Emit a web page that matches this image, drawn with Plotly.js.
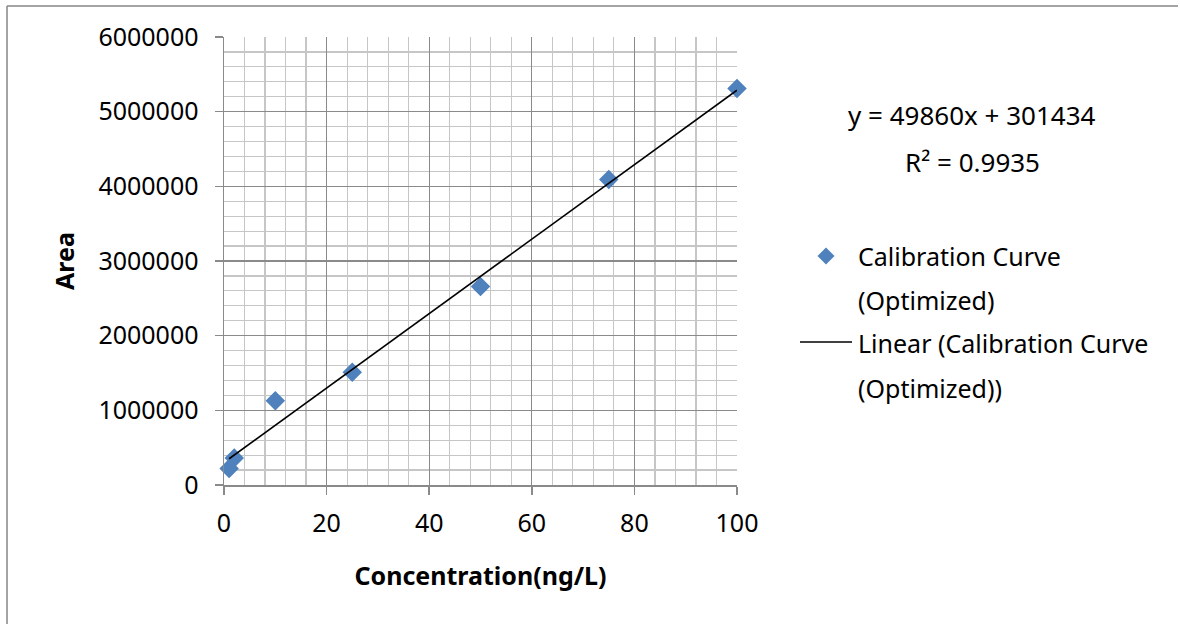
<!DOCTYPE html>
<html>
<head>
<meta charset="utf-8">
<script src="https://cdn.plot.ly/plotly-3.0.1.min.js"></script>
<style>
  html, body { margin: 0; padding: 0; background: #ffffff; overflow: hidden; }
  #chart { width: 1180px; height: 624px; }
</style>
</head>
<body>
<div id="chart"></div>
<script>
// Calibration standards: concentration (ng/L) vs. peak area
const concentration = [1, 2, 10, 25, 50, 75, 100];
const area = [220000, 360000, 1130000, 1510000, 2660000, 4090000, 5310000];

// Linear trendline coefficients and fit quality
const slope = 49860;
const intercept = 301434;
const rSquared = 0.9935;

const seriesName = 'Calibration Curve (Optimized)';
const legendLines = ['Calibration Curve', '(Optimized)', 'Linear (Calibration Curve', '(Optimized))'];

const W = 1180, H = 624;
const M = { l: 224, r: 443, t: 37, b: 139 };
const plotW = W - M.l - M.r;
const plotH = H - M.t - M.b;
// pixel -> paper helpers for decorations outside the plot area
const px = x => (x - M.l) / plotW;
const py = y => (H - M.b - y) / plotH;

const FONT = '"Noto Sans", "Open Sans", sans-serif';
const BLUE = '#4F81BD';
const GRID_MAJOR = '#8a8a8a';
const GRID_MINOR = '#c6c6c6';

const trendX = [Math.min(...concentration), Math.max(...concentration)];
const trendY = trendX.map(x => slope * x + intercept);

const traces = [
  {
    x: concentration, y: area, type: 'scatter', mode: 'markers',
    name: seriesName, showlegend: false,
    marker: { symbol: 'diamond', size: 15, color: BLUE, line: { width: 0 } },
    cliponaxis: false
  },
  {
    x: trendX, y: trendY, type: 'scatter', mode: 'lines',
    name: 'Linear (' + seriesName + ')', showlegend: false,
    line: { color: '#000000', width: 1.6 }
  }
];

const textFont = { family: FONT, size: 25, color: '#000000' };
const eqFont = { family: FONT, size: 26, color: '#000000' };

const annotations = [
  { text: 'y = ' + slope + 'x + ' + intercept, x: px(972), y: py(115) },
  { text: 'R² = ' + rSquared, x: px(972), y: py(162) }
].map(a => Object.assign({
  xref: 'paper', yref: 'paper', xanchor: 'center', yanchor: 'middle',
  showarrow: false, font: eqFont
}, a));

const legendY = [256, 300, 343, 388];
legendLines.forEach((t, i) => annotations.push({
  text: t, xref: 'paper', yref: 'paper', x: px(856), y: py(legendY[i]),
  xanchor: 'left', yanchor: 'middle', showarrow: false, font: textFont
}));

const d = 8.5; // legend diamond half-size in px
const frame = { color: '#868686', width: 1.5 };
const shapes = [
  // chart frame (left and top edges inside the page)
  { type: 'line', xref: 'paper', yref: 'paper',
    x0: px(7), x1: px(7), y0: py(6), y1: py(H), line: frame },
  { type: 'line', xref: 'paper', yref: 'paper',
    x0: px(7), x1: px(W - 2), y0: py(6), y1: py(6), line: frame },
  // legend marker symbol
  { type: 'path', xref: 'paper', yref: 'paper',
    path: 'M ' + px(826) + ' ' + py(256 - d) + ' L ' + px(826 + d) + ' ' + py(256) +
          ' L ' + px(826) + ' ' + py(256 + d) + ' L ' + px(826 - d) + ' ' + py(256) + ' Z',
    fillcolor: BLUE, line: { width: 0 } },
  // legend line symbol
  { type: 'line', xref: 'paper', yref: 'paper',
    x0: px(800), x1: px(852), y0: py(342), y1: py(342),
    line: { color: '#000000', width: 1.6 } }
];

const layout = {
  width: W, height: H,
  margin: M,
  paper_bgcolor: '#ffffff', plot_bgcolor: '#ffffff',
  font: textFont,
  showlegend: false,
  xaxis: {
    range: [0, 100], dtick: 20, tick0: 0,
    showgrid: true, gridcolor: GRID_MAJOR, gridwidth: 1.2,
    minor: { dtick: 4, tick0: 0, showgrid: true, gridcolor: GRID_MINOR, gridwidth: 1.2, ticks: '' },
    showline: true, linecolor: GRID_MAJOR, linewidth: 1.5,
    ticks: 'outside', ticklen: 8, tickcolor: GRID_MAJOR, tickwidth: 1.5,
    ticklabelstandoff: 7,
    zeroline: false, fixedrange: true,
    tickfont: textFont,
    title: { text: '<b>Concentration(ng/L)</b>', standoff: 30, font: textFont }
  },
  yaxis: {
    range: [0, 6000000], dtick: 1000000, tick0: 0, tickformat: 'd',
    showgrid: true, gridcolor: GRID_MAJOR, gridwidth: 1.2,
    minor: { dtick: 200000, tick0: 0, showgrid: true, gridcolor: GRID_MINOR, gridwidth: 1.2, ticks: '' },
    showline: true, linecolor: GRID_MAJOR, linewidth: 1.5,
    ticks: 'outside', ticklen: 8, tickcolor: GRID_MAJOR, tickwidth: 1.5,
    ticklabelstandoff: 11,
    zeroline: false, fixedrange: true,
    tickfont: textFont,
    title: { text: '<b>Area</b>', standoff: 16, font: textFont }
  },
  annotations: annotations,
  shapes: shapes
};

Plotly.newPlot('chart', traces, layout, { staticPlot: true, displayModeBar: false });
</script>
</body>
</html>
